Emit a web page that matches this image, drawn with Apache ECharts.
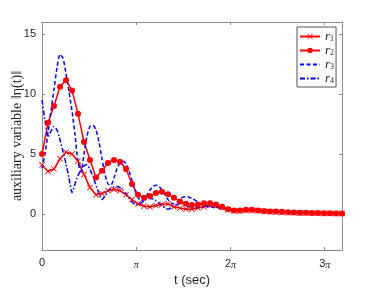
<!DOCTYPE html>
<html><head><meta charset="utf-8">
<script src="https://cdn.jsdelivr.net/npm/echarts@6/dist/echarts.min.js"></script>
<style>html,body{margin:0;padding:0;background:#fff}#c{width:371px;height:289px}</style>
</head><body><div id="c"></div>
<script>
// time grids (seconds)
const redStep = 0.2;   // red series sampled every 0.2 s, 0..10
const blueStepA = 0.1; // blue series every 0.1 s for 0..5
const blueStepB = 0.25;// then every 0.25 s for 5.25..10

const r1 = [4.1,3.55,3.75,4.6,5.15,5.0,4.4,3.3,2.2,1.6,1.7,1.95,2.05,1.95,1.6,1.2,0.85,0.65,0.6,0.7,
  0.8,0.85,0.6,0.5,0.4,0.4,0.5,0.6,0.75,0.7,0.55,0.35,0.25,0.25,0.3,0.3,0.28,0.22,0.18,0.15,
  0.12,0.1,0.1,0.08,0.08,0.06,0.06,0.05,0.05,0.04,0.04];
const r2 = [5.0,7.6,9.0,10.6,11.15,10.3,8.35,6.0,4.5,3.05,3.6,4.25,4.5,4.35,3.75,2.5,1.6,1.35,1.5,1.75,
  1.85,1.65,1.35,1.05,0.85,0.75,0.8,0.9,0.9,0.8,0.6,0.4,0.3,0.3,0.35,0.35,0.3,0.25,0.2,0.2,
  0.18,0.15,0.12,0.1,0.1,0.08,0.08,0.06,0.06,0.05,0.05];
const r3 = [3.8,5.0,6.8,8.6,10.4,12.2,13.3,13.0,11.7,10.2,8.6,6.6,4.3,3.5,5.0,6.5,7.3,7.4,7.0,6.0,
  4.6,3.3,2.5,2.4,3.0,3.8,4.25,4.4,4.2,3.6,2.8,2.0,1.4,1.1,1.2,1.6,2.0,2.3,2.4,2.3,
  2.0,1.6,1.2,0.9,0.85,1.0,1.25,1.4,1.45,1.4,1.3,
  0.9,0.6,0.55,0.5,0.35,0.3,0.4,0.45,0.4,0.3,0.2,0.15,0.12,0.1,0.1,0.08,0.06,0.05,0.05,0.04];
const r4 = [9.5,7.8,6.4,6.9,7.3,7.0,6.2,5.2,4.2,3.0,1.8,2.5,3.2,3.7,4.0,4.1,3.7,3.1,2.4,1.7,
  1.2,1.5,1.9,2.15,2.25,2.3,2.2,2.0,1.7,1.3,1.0,0.8,0.75,0.9,1.1,1.25,1.3,1.25,1.1,0.9,
  0.7,0.5,0.4,0.5,0.65,0.8,0.85,0.85,0.75,0.6,0.5,
  0.55,0.65,0.6,0.45,0.3,0.25,0.3,0.35,0.3,0.25,0.2,0.15,0.12,0.1,0.08,0.07,0.06,0.05,0.04,0.04];

const xTickValues = [0, Math.PI, 2*Math.PI, 3*Math.PI];
const xTickLabels = ['0', '{p|π}', '{n|2}{p|π}', '{n|3}{p|π}'];
const yTickValues = [0, 5, 10, 15];

function redTimes(n){ return Array.from({length:n},(_,i)=>+(i*redStep).toFixed(2)); }
function blueTimes(n){
  const a=[]; for(let i=0;i<=50;i++) a.push(+(i*blueStepA).toFixed(2));
  let t=5; while(a.length<n){ t+=blueStepB; a.push(+t.toFixed(2)); }
  return a;
}
function pairs(ts, vs){ return vs.map((v,i)=>[ts[i], v]); }

const crossPath = 'path://M0,1 L1,0 L5,4 L9,0 L10,1 L6,5 L10,9 L9,10 L5,6 L1,10 L0,9 L4,5 Z';
const axisColor = '#8c8c8c';
const txt = '#262626';

const chart = echarts.init(document.getElementById('c'), null, {renderer:'canvas'});
const xLabelFmt = v => { const i = xTickValues.findIndex(x=>Math.abs(x-v)<1e-6); return i<0?'':xTickLabels[i]; };
const tickStyle = {show:true, inside:true, length:3, lineStyle:{color:axisColor}};
const lineStyleAx = {show:true, onZero:false, lineStyle:{color:axisColor, width:1}};

const option = {
  animation:false,
  backgroundColor:'#fff',
  grid:{left:42, right:29, top:22, bottom:39, containLabel:false, outerBoundsMode:'none'},
  xAxis:[{
    type:'value', min:0, max:10, position:'bottom',
    name:'t (sec)', nameLocation:'middle', nameGap:24, nameMoveOverlap:false,
    nameTextStyle:{fontFamily:'Liberation Sans', fontSize:13, color:txt},
    axisLine:lineStyleAx,
    axisTick:Object.assign({customValues:xTickValues}, tickStyle),
    axisLabel:{customValues:xTickValues, formatter:xLabelFmt, margin:7, color:txt,
      fontFamily:'Liberation Sans', fontSize:11,
      rich:{p:{fontFamily:'Liberation Serif', fontStyle:'italic', fontSize:10, color:txt, padding:[3,0,0,0]},
            n:{fontFamily:'Liberation Sans', fontSize:11, color:txt}}},
    splitLine:{show:false}
  },{
    type:'value', min:0, max:10, position:'top',
    axisLine:lineStyleAx,
    axisTick:Object.assign({customValues:xTickValues}, tickStyle),
    axisLabel:{show:false}, splitLine:{show:false}
  }],
  yAxis:[{
    type:'value', min:-3, max:16, position:'left',
    name:'auxiliary variable ‖η(t)‖', nameLocation:'middle', nameGap:18, nameRotate:90, nameMoveOverlap:false,
    nameTextStyle:{fontFamily:'Liberation Serif', fontSize:14, color:txt},
    axisLine:lineStyleAx,
    axisTick:Object.assign({customValues:yTickValues}, tickStyle),
    axisLabel:{customValues:yTickValues, margin:6, color:txt, fontFamily:'Liberation Sans', fontSize:11},
    splitLine:{show:false}
  },{
    type:'value', min:-3, max:16, position:'right',
    axisLine:lineStyleAx,
    axisTick:Object.assign({customValues:yTickValues}, tickStyle),
    axisLabel:{show:false}, splitLine:{show:false}
  }],
  legend:{
    orient:'vertical', left:297, top:27, padding:[3,2,2,2],
    borderColor:'#555', borderWidth:1, backgroundColor:'#fff',
    itemWidth:20, itemHeight:7, itemGap:1,
    data:['r1','r2',{name:'r3', itemStyle:{opacity:0}},{name:'r4', itemStyle:{opacity:0}}],
    formatter: name => '{r|r}{s|' + name.slice(1) + '}',
    textStyle:{rich:{
      r:{fontFamily:'Liberation Serif', fontStyle:'italic', fontSize:13, lineHeight:14, color:txt},
      s:{fontFamily:'Liberation Serif', fontSize:8, lineHeight:9, color:txt, padding:[5,0,0,0]}
    }}
  },
  series:[
    {name:'r1', type:'line', data:pairs(redTimes(r1.length), r1),
     symbol:crossPath, symbolSize:6, showSymbol:true, showAllSymbol:true,
     lineStyle:{color:'#ff0000', width:1.5}, itemStyle:{color:'#ff0000'}},
    {name:'r2', type:'line', data:pairs(redTimes(r2.length), r2),
     symbol:'circle', symbolSize:6, showSymbol:true, showAllSymbol:true,
     lineStyle:{color:'#ff0000', width:1.5}, itemStyle:{color:'#ff0000'}},
    {name:'r3', type:'line', data:pairs(blueTimes(r3.length), r3),
     symbol:'none', smooth:0.2,
     lineStyle:{color:'#0000ff', width:1.5, type:[4,2.5]}, itemStyle:{color:'#0000ff'}},
    {name:'r4', type:'line', data:pairs(blueTimes(r4.length), r4),
     symbol:'none', smooth:0.2,
     lineStyle:{color:'#0000ff', width:1.5, type:[5,2,1.5,2]}, itemStyle:{color:'#0000ff'}}
  ]
};
chart.setOption(option);
</script></body></html>
